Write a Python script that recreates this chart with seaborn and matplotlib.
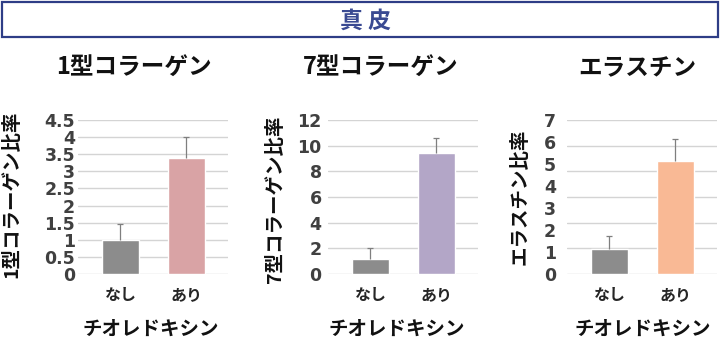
import numpy as np
import pandas as pd
import matplotlib
matplotlib.use("Agg")
import matplotlib.pyplot as plt
import seaborn as sns
from matplotlib.patches import Rectangle

# ---------------- data ----------------
header = "真 皮"
categories = ["なし", "あり"]
xlabel_text = "チオレドキシン"
titles = ["1型コラーゲン", "7型コラーゲン", "エラスチン"]
ylabels = ["1型コラーゲン比率", "7型コラーゲン比率", "エラスチン比率"]

col1_means = [1.00, 3.38]
col1_sd = [0.47, 0.63]
col7_means = [1.16, 9.42]
col7_sd = [0.90, 1.21]
elastin_means = [1.15, 5.12]
elastin_sd = [0.58, 1.01]

yticks_col1 = [0, 0.5, 1, 1.5, 2, 2.5, 3, 3.5, 4, 4.5]
ylabels_col1 = ["0", "0.5", "1", "1.5", "2", "2.5", "3", "3.5", "4", "4.5"]
yticks_col7 = [0, 2, 4, 6, 8, 10, 12]
ylabels_col7 = ["0", "2", "4", "6", "8", "10", "12"]
yticks_ela = [0, 1, 2, 3, 4, 5, 6, 7]
ylabels_ela = ["0", "1", "2", "3", "4", "5", "6", "7"]

colors = [["#8c8c8c", "#d9a3a5"], ["#8c8c8c", "#b3a6c7"], ["#8c8c8c", "#f9b995"]]

# ---------------- style ----------------
sns.set_style("white")
plt.rcParams["font.family"] = ["Noto Sans CJK JP", "DejaVu Sans"]

W, H = 721, 342
fig = plt.figure(figsize=(W / 100, H / 100), dpi=100)

def fx(px):
    return px / W

def fy(py):
    return 1 - py / H

# header box
fig.patches.append(Rectangle((fx(2), fy(37)), fx(716), 35 / H, transform=fig.transFigure,
                             fill=False, edgecolor="#2e3d86", linewidth=1.6))
fig.text(fx(365), fy(21.5), header, ha="center", va="center", fontsize=16.5,
         fontweight="bold", color="#3a4a92")

panels = [
    dict(left=78, means=col1_means, sd=col1_sd, ticks=yticks_col1, tlabels=ylabels_col1,
         ymax=4.5, grid=yticks_col1, pad=2.0, title_x=134, ylab_x=12, ylab_y=194, xlab_x=151),
    dict(left=328, means=col7_means, sd=col7_sd, ticks=yticks_col7, tlabels=ylabels_col7,
         ymax=12, grid=yticks_col7, pad=4.5, title_x=381, ylab_x=275, ylab_y=199, xlab_x=397),
    dict(left=567, means=elastin_means, sd=elastin_sd, ticks=yticks_ela, tlabels=ylabels_ela,
         ymax=7, grid=list(np.linspace(0, 7, 7)), pad=8.0, title_x=637, ylab_x=520, ylab_y=197, xlab_x=643),
]

for i, p in enumerate(panels):
    ax = fig.add_axes([fx(p["left"]), fy(274), fx(150), 154 / H])
    df = pd.DataFrame({"cond": categories, "val": p["means"]})
    sns.barplot(data=df, x="cond", y="val", hue="cond", palette=colors[i], legend=False,
                width=0.56, errorbar=None, ax=ax, saturation=1, zorder=2)
    _, caps, _ = ax.errorbar(range(len(categories)), p["means"], yerr=[np.zeros(2), p["sd"]],
                             fmt="none", ecolor="#7f7f7f", elinewidth=0.9, capsize=2.5,
                             capthick=0.9, zorder=3)
    caps[0].set_visible(False)
    for g in p["grid"]:
        ax.axhline(g, color="#d4d4d4", linewidth=1, zorder=0)
    ax.set_xlim(-0.644, 1.63)
    ax.set_ylim(0, p["ymax"])
    ax.set_yticks(p["ticks"])
    ax.set_yticklabels(p["tlabels"], fontfamily="DejaVu Sans", fontweight="bold",
                       fontsize=12.5, color="#404040")
    ax.grid(False)
    ax.set_xticks(range(len(categories)))
    ax.set_xticklabels(categories, fontsize=11.5, fontweight="bold", color="#262626")
    ax.tick_params(axis="x", length=0, pad=9.5)
    ax.tick_params(axis="y", which="both", length=0, pad=p["pad"])
    ax.set_xlabel("")
    ax.set_ylabel("")
    for s in ax.spines.values():
        s.set_visible(False)

    fig.text(fx(p["title_x"]), fy(68), titles[i], ha="center", va="center",
             fontsize=17, fontweight="bold", color="#111111")
    fig.text(fx(p["ylab_x"]), fy(p["ylab_y"]), ylabels[i], ha="center", va="center",
             rotation=90, fontsize=14, fontweight="bold", color="#111111")
    fig.text(fx(p["xlab_x"]), fy(329), xlabel_text, ha="center", va="center",
             fontsize=14, fontweight="bold", color="#111111")

fig.savefig("out.png", dpi=100)
